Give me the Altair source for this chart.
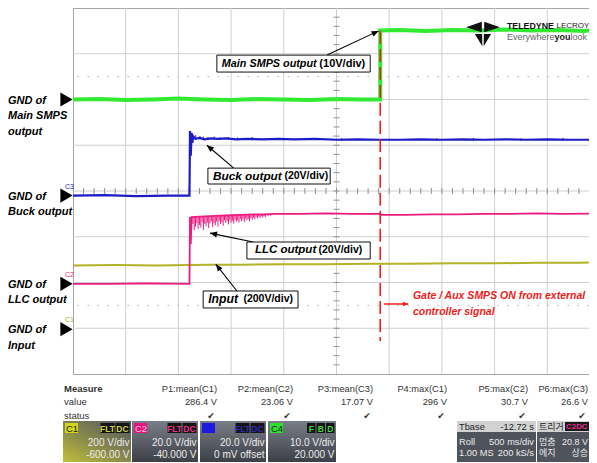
import math
import altair as alt
import pandas as pd

# ============================ DATA ============================
# Scope screen coordinates: time in divisions (500 ms/div), level in divisions (-4..+4).
MAIN_SMPS_OUTPUT = [(0, 2.00), (0.5, 2.01), (1.0, 1.99), (1.5, 2.00), (2.0, 2.02), (2.5, 2.00),
                    (3.0, 1.99), (3.5, 2.01), (4.0, 2.00), (4.5, 1.99), (5.0, 2.01), (5.5, 2.00),
                    (5.83, 2.00), (5.83, 3.51), (6.2, 3.52), (6.7, 3.50), (7.2, 3.52), (7.7, 3.51),
                    (8.2, 3.53), (8.7, 3.51), (9.2, 3.52), (9.7, 3.50), (10, 3.52)]

BUCK_OUTPUT = [(0, -0.10), (0.6, -0.09), (1.2, -0.11), (1.8, -0.10), (2.21, -0.10), (2.22, 1.31),
               (2.235, 0.77), (2.25, 1.27), (2.265, 1.05), (2.28, 1.20), (2.32, 1.14), (2.40, 1.16),
               (2.50, 1.13), (2.62, 1.15), (2.75, 1.14), (2.9, 1.15), (3.1, 1.13), (3.3, 1.14),
               (3.6, 1.13), (3.9, 1.14), (4.2, 1.13), (4.6, 1.14), (5.0, 1.12), (5.4, 1.13),
               (5.8, 1.12), (6.2, 1.12), (6.6, 1.13), (7.0, 1.12), (7.4, 1.13), (7.8, 1.12),
               (8.2, 1.13), (8.6, 1.12), (9.0, 1.13), (9.4, 1.12), (10, 1.12)]
# (time, low, high) short noise bursts on the buck output
BUCK_NOISE = [(2.33, 1.12, 1.22), (2.41, 1.12, 1.20), (2.47, 1.11, 1.19), (2.56, 1.12, 1.18),
              (2.68, 1.12, 1.19), (2.79, 1.12, 1.17), (2.95, 1.12, 1.18), (3.12, 1.11, 1.17),
              (3.40, 1.11, 1.18), (3.75, 1.12, 1.16), (4.40, 1.11, 1.16), (5.10, 1.10, 1.15),
              (6.90, 1.10, 1.15), (7.60, 1.10, 1.16), (8.50, 1.10, 1.15), (9.30, 1.10, 1.16)]

LLC_OUTPUT = [(0, -2.03), (0.7, -2.03), (1.4, -2.02), (2.21, -2.03), (2.22, -0.57), (2.235, -1.16),
              (2.25, -0.57), (2.4, -0.56), (2.6, -0.55), (2.8, -0.54), (3.0, -0.53), (3.2, -0.52),
              (3.4, -0.51), (3.6, -0.51), (3.85, -0.50), (4.3, -0.50), (4.8, -0.49), (5.3, -0.50),
              (5.82, -0.50), (5.86, -0.52), (6.3, -0.52), (6.8, -0.51), (7.3, -0.51), (7.8, -0.50),
              (8.3, -0.50), (8.8, -0.49), (9.3, -0.50), (10, -0.49)]
# (time, top, bottom) of the ringing spikes on the LLC output after start-up
LLC_SPIKES = [(2.25, -0.57, -0.84), (2.275, -0.57, -0.72), (2.30, -0.57, -0.86), (2.325, -0.57, -0.78),
              (2.35, -0.57, -0.70), (2.375, -0.56, -0.83), (2.40, -0.56, -0.74), (2.425, -0.56, -0.80),
              (2.45, -0.56, -0.68), (2.475, -0.56, -0.85), (2.50, -0.56, -0.72), (2.525, -0.56, -0.77),
              (2.55, -0.56, -0.69), (2.575, -0.55, -0.81), (2.60, -0.55, -0.71), (2.625, -0.55, -0.66),
              (2.65, -0.55, -0.79), (2.675, -0.55, -0.70), (2.70, -0.55, -0.75), (2.725, -0.55, -0.67),
              (2.75, -0.54, -0.78), (2.775, -0.54, -0.65), (2.80, -0.54, -0.72), (2.825, -0.54, -0.68),
              (2.85, -0.54, -0.76), (2.875, -0.54, -0.64), (2.90, -0.54, -0.70), (2.925, -0.54, -0.66),
              (2.95, -0.53, -0.73), (2.975, -0.53, -0.63), (3.00, -0.53, -0.69), (3.025, -0.53, -0.65),
              (3.05, -0.53, -0.71), (3.075, -0.53, -0.62), (3.10, -0.53, -0.67), (3.125, -0.52, -0.64),
              (3.15, -0.52, -0.69), (3.175, -0.52, -0.61), (3.20, -0.52, -0.66), (3.225, -0.52, -0.62),
              (3.25, -0.52, -0.68), (3.275, -0.52, -0.60), (3.30, -0.52, -0.64), (3.325, -0.51, -0.61),
              (3.35, -0.51, -0.66), (3.375, -0.51, -0.59), (3.40, -0.51, -0.63), (3.425, -0.51, -0.58),
              (3.45, -0.51, -0.62), (3.475, -0.51, -0.57), (3.50, -0.51, -0.60), (3.525, -0.51, -0.56),
              (3.55, -0.51, -0.59), (3.575, -0.51, -0.55), (3.60, -0.51, -0.58), (3.625, -0.51, -0.55),
              (3.65, -0.51, -0.57), (3.70, -0.50, -0.55), (3.75, -0.50, -0.54)]

INPUT = [(0, -1.63), (0.8, -1.62), (1.6, -1.63), (2.2, -1.62), (2.6, -1.61), (3.2, -1.61),
         (4.0, -1.60), (4.8, -1.60), (5.6, -1.59), (6.4, -1.59), (7.2, -1.58), (8.0, -1.58),
         (8.8, -1.57), (9.6, -1.57), (10, -1.56)]

GND_LABELS = ["GND of\nMain SMPS\noutput", "GND of\nBuck output", "GND of\nLLC output", "GND of\nInput"]
GND_LEVELS = [2.00, -0.10, -2.03, -3.02]
GND_TAGS = ["", "C3", "C2", "C1"]

ANN_LABEL = ["Main SMPS output", "Buck output", "LLC output", "Input"]
ANN_SCALE = ["(10V/div)", "(20V/div)", "(20V/div)", "(200V/div)"]
ANN_BOX = [(2.73, 5.64, 2.97, 2.60), (2.56, 4.88, 0.50, 0.153),
           (3.30, 5.64, -1.115, -1.486), (2.47, 4.27, -2.186, -2.557)]
ANN_ARROW = [(4.82, 2.97, 5.80, 3.50), (3.05, 0.50, 2.54, 1.00),
             (3.42, -1.115, 2.60, -0.92), (3.11, -2.186, 2.71, -1.60)]

TRIGGER_T = 5.83
TRIGGER_SPAN = (3.50, -3.28)
TRIGGER_ARROW = (5.90, 6.36, -2.47)
TRIGGER_NOTE = ["Gate / Aux SMPS ON from external", "controller signal"]
TRIGGER_NOTE_POS = (6.45, [-2.30, -2.65])

MEAS_NAMES = ["P1:mean(C1)", "P2:mean(C2)", "P3:mean(C3)", "P4:max(C1)", "P5:max(C2)", "P6:max(C3)"]
MEAS_VALUES = ["286.4 V", "23.06 V", "17.07 V", "296 V", "30.7 V", "26.6 V"]

CH_NAMES = ["C1", "C2", "", "C4"]
CH_VDIV = ["200 V/div", "20.0 V/div", "20.0 V/div", "10.0 V/div"]
CH_OFFSET = ["-600.00 V", "-40.000 V", "0 mV offset", "20.000 V"]
CH_BADGES = [["FLT", "DC"], ["FLT", "DC"], ["FLT", "DC"], ["F", "B", "D"]]

TBASE_ROWS = [("Tbase", "-12.72 s"), ("Roll", "500 ms/div"), ("1.00 MS", "200 kS/s")]
TRIG_ROWS = [("트리거", ""), ("멈춤", "20.8 V"), ("에지", "상승")]

# ============================ STYLE / LAYOUT ============================
PX_DIV_X, PX_DIV_Y = 52.7, 45.75
W, H = 516, 366                     # canvas = 65 + 516 = 581 wide (fits the page without shrinking)
XMAX = W / PX_DIV_X
PAD_L, PAD_B = 65, 89
X0, Y0 = 8 + PAD_L, 8               # page position of plot origin
ARIAL = "Liberation Sans, Arial, sans-serif"
UI = "Liberation Sans Narrow, Liberation Sans, Arial, sans-serif"
KR = "Noto Sans CJK KR, sans-serif"

GREEN, BLUE, PINK, OLIVE, RED = "#33ea33", "#1c1cc8", "#ef1a80", "#b3b228", "#f01c1c"
CH_COLORS = ["#d4d41c", "#e8157c", "#1c1ce0", "#30e030"]
CH_BADGE_TXT = ["#cfcf50", "#e8308a", "#2a2ab0", "#38d838"]
GRID = "#cfcfcf"

XS = alt.Scale(domain=[0, XMAX], nice=False, zero=False)
YS = alt.Scale(domain=[-4, 4], nice=False, zero=False)
ARROW_PATH = "M0,0 L-0.42,1 L0.42,1 Z"
LOGO_PATH = ("M-1,-0.40 L-0.07,-0.72 L-0.07,-0.10 Z M1,-0.40 L0.07,-0.72 L0.07,-0.10 Z "
             "M-0.48,0.0 L-0.05,0.0 L-0.04,0.72 Z M0.48,0.0 L0.05,0.0 L0.04,0.72 Z")

ONE = pd.DataFrame({"k": [0]})


def X(f):
    return alt.X(f"{f}:Q", scale=XS, axis=None)


def Y(f):
    return alt.Y(f"{f}:Q", scale=YS, axis=None)


def X2(f):
    return alt.X2(f"{f}:Q")


def Y2(f):
    return alt.Y2(f"{f}:Q")


def frame(points):
    return pd.DataFrame({"i": range(len(points)), "t": [p[0] for p in points], "v": [p[1] for p in points]})


def ctext(xp, yp, s, size=9.5, color="#222222", align="left", weight="normal", style="normal",
          font=UI, baseline="middle"):
    return alt.Chart(ONE).mark_text(text=s, fontSize=size, color=color, align=align, fontWeight=weight,
                                    fontStyle=style, font=font, baseline=baseline).encode(
        x=alt.value(xp - X0), y=alt.value(yp - Y0))


def crect(x1, y1, x2, y2, fill, **kw):
    return alt.Chart(ONE).mark_rect(fill=fill, **kw).encode(
        x=alt.value(x1 - X0), x2=alt.value(x2 - X0), y=alt.value(y1 - Y0), y2=alt.value(y2 - Y0))


def head_angle(t1, v1, t2, v2):
    dx = (t2 - t1) * PX_DIV_X
    dy = -(v2 - v1) * PX_DIV_Y
    return math.degrees(math.atan2(dx, -dy)) % 360


layers = []

# ---- graticule
layers.append(alt.Chart(pd.DataFrame({"t": list(range(1, 10))})).mark_rule(color=GRID, strokeWidth=1).encode(x=X("t")))
layers.append(alt.Chart(pd.DataFrame({"v": list(range(-3, 4))})).mark_rule(color=GRID, strokeWidth=1).encode(y=Y("v")))
layers.append(alt.Chart(pd.DataFrame({"v": [2.5, -2.5]})).mark_rule(color="#b5b5b5", strokeDash=[1.5, 8.5]).encode(y=Y("v")))
layers.append(alt.Chart(pd.DataFrame({"t": [round(0.2 * k, 1) for k in range(1, 49)]})).mark_rule(
    color="#909090").encode(x=X("t"), y=alt.value(H / 2 - 3), y2=alt.value(H / 2 + 3)))
layers.append(alt.Chart(pd.DataFrame({"v": [round(-4 + 0.2 * k, 1) for k in range(1, 40)]})).mark_rule(
    color="#909090").encode(y=Y("v"), x=alt.value(5 * PX_DIV_X - 3), x2=alt.value(5 * PX_DIV_X + 3)))

# ---- traces
layers.append(alt.Chart(frame(INPUT)).mark_line(color=OLIVE, strokeWidth=2).encode(
    x=X("t"), y=Y("v"), order=alt.Order("i:Q")))
spk = pd.DataFrame(LLC_SPIKES, columns=["t", "top", "bot"])
layers.append(alt.Chart(spk).mark_rule(color=PINK, strokeWidth=1).encode(x=X("t"), y=Y("top"), y2=Y2("bot")))
layers.append(alt.Chart(frame(LLC_OUTPUT)).mark_line(color=PINK, strokeWidth=1.8).encode(
    x=X("t"), y=Y("v"), order=alt.Order("i:Q")))
bn = pd.DataFrame(BUCK_NOISE, columns=["t", "lo", "hi"])
layers.append(alt.Chart(bn).mark_rule(color=BLUE, strokeWidth=1).encode(x=X("t"), y=Y("lo"), y2=Y2("hi")))
layers.append(alt.Chart(frame(BUCK_OUTPUT)).mark_line(color=BLUE, strokeWidth=2.2).encode(
    x=X("t"), y=Y("v"), order=alt.Order("i:Q")))
layers.append(alt.Chart(frame(MAIN_SMPS_OUTPUT)).mark_line(color=GREEN, strokeWidth=4).encode(
    x=X("t"), y=Y("v"), order=alt.Order("i:Q")))

# ---- trigger marker (red dashed) and note
layers.append(alt.Chart(pd.DataFrame({"t": [TRIGGER_T], "v1": [TRIGGER_SPAN[0]], "v2": [TRIGGER_SPAN[1]]})).mark_rule(
    color=RED, strokeWidth=1.6, strokeDash=[13, 5]).encode(x=X("t"), y=Y("v1"), y2=Y2("v2")))
ta = pd.DataFrame({"t1": [TRIGGER_ARROW[0]], "t2": [TRIGGER_ARROW[1]], "v": [TRIGGER_ARROW[2]]})
layers.append(alt.Chart(ta).mark_rule(color=RED, strokeWidth=1.5).encode(x=X("t1"), x2=X2("t2"), y=Y("v")))
layers.append(alt.Chart(ta).mark_point(shape=ARROW_PATH, filled=True, size=110, angle=90, color=RED, opacity=1,
                                       strokeWidth=0).encode(x=X("t2"), y=Y("v")))
layers.append(alt.Chart(pd.DataFrame({"t": [TRIGGER_NOTE_POS[0]] * 2, "v": TRIGGER_NOTE_POS[1], "s": TRIGGER_NOTE})).mark_text(
    align="left", baseline="middle", font=ARIAL, fontSize=10.5, fontWeight="bold", fontStyle="italic", color=RED).encode(
    x=X("t"), y=Y("v"), text="s:N"))

# ---- annotation boxes + arrows
ITALIC_SIZE = [10.8, 11.8, 11.5, 12.2]
UPRIGHT_SIZE = [11, 10.5, 10.5, 10.5]
PADS = [(5, 5), (5, 2), (8, 8), (5, 5)]
for k in range(4):
    t1, t2, v1, v2 = ANN_BOX[k]
    a1, b1, a2, b2 = ANN_ARROW[k]
    row = pd.DataFrame({"t1": [t1], "t2": [t2], "v1": [v1], "v2": [v2], "vc": [(v1 + v2) / 2],
                        "a1": [a1], "b1": [b1], "a2": [a2], "b2": [b2],
                        "lab": [ANN_LABEL[k]], "sc": [ANN_SCALE[k]]})
    layers.append(alt.Chart(row).mark_rule(color="black", strokeWidth=1.1).encode(
        x=X("a1"), y=Y("b1"), x2=X2("a2"), y2=Y2("b2")))
    layers.append(alt.Chart(row).mark_point(shape=ARROW_PATH, filled=True, size=200, angle=head_angle(a1, b1, a2, b2),
                                            color="black", opacity=1, strokeWidth=0).encode(x=X("a2"), y=Y("b2")))
    layers.append(alt.Chart(row).mark_rect(fill="white", stroke="#111111", strokeWidth=1).encode(
        x=X("t1"), x2=X2("t2"), y=Y("v1"), y2=Y2("v2")))
    layers.append(alt.Chart(row).mark_text(align="left", baseline="middle", dx=PADS[k][0], font=ARIAL,
                                           fontSize=ITALIC_SIZE[k], fontWeight="bold", fontStyle="italic",
                                           color="black").encode(x=X("t1"), y=Y("vc"), text="lab:N"))
    layers.append(alt.Chart(row).mark_text(align="right", baseline="middle", dx=-PADS[k][1], font=ARIAL,
                                           fontSize=UPRIGHT_SIZE[k], fontWeight="bold",
                                           color="black").encode(x=X("t2"), y=Y("vc"), text="sc:N"))

# ---- ground markers and labels
gnd = pd.DataFrame({"v": GND_LEVELS, "lab": GND_LABELS, "tag": GND_TAGS})
layers.append(alt.Chart(gnd).mark_point(shape="triangle-right", filled=True, size=200, color="black", opacity=1,
                                        strokeWidth=0).encode(x=alt.value(-6.5), y=Y("v")))
layers.append(alt.Chart(gnd).mark_text(align="left", baseline="alphabetic", dy=4, lineBreak="\n", lineHeight=15.5,
                                       font=ARIAL, fontSize=11, fontWeight="bold", fontStyle="italic",
                                       color="black").encode(x=alt.value(8 - X0), y=Y("v"), text="lab:N"))
for tag, col in [("C3", BLUE), ("C2", PINK), ("C1", OLIVE)]:
    layers.append(alt.Chart(gnd[gnd.tag == tag]).mark_text(align="left", baseline="middle", dy=-9, fontSize=7,
                                                            font=ARIAL, color=col).encode(
        x=alt.value(-8), y=Y("v"), text="tag:N"))

# ---- logo
layers.append(alt.Chart(ONE).mark_point(shape=LOGO_PATH, filled=True, size=1150, color="#111111", opacity=1,
                                        strokeWidth=0).encode(x=alt.value(483 - X0), y=alt.value(34 - Y0)))
layers.append(ctext(507, 26, "TELEDYNE", size=8.8, weight="bold", color="#111111", font=ARIAL))
layers.append(ctext(556.5, 26, "LECROY", size=8, color="#222222", font=ARIAL))
layers.append(ctext(507, 36.5, "Everywhere", size=9, color="#666666", font=ARIAL))
layers.append(ctext(554.5, 36.5, "you", size=9, color="#222222", weight="bold", font=ARIAL))
layers.append(ctext(570.5, 36.5, "look", size=9, color="#666666", font=ARIAL))

# ---- measurement panel
for lab, yy, wt in [("Measure", 389, "bold"), ("value", 402, "normal"), ("status", 416, "normal")]:
    layers.append(ctext(64, yy, lab, size=9.5, weight=wt, color="#333333"))
MEAS_RIGHT = [217, 293, 373, 447, 528, 588]
for k in range(6):
    xr = MEAS_RIGHT[k]
    layers.append(ctext(xr, 389, MEAS_NAMES[k], size=9.3, align="right", color="#333333"))
    layers.append(ctext(xr, 402, MEAS_VALUES[k], size=9.3, align="right", color="#333333"))
    layers.append(ctext(xr - 6, 416, "✔", size=9, align="center", color="#333333", font="DejaVu Sans"))

# ---- channel boxes
CH_BOX = [(63, 131), (132, 198), (200, 266), (268, 336)]
C1_FILL = {"gradient": "linear", "x1": 0, "y1": 1, "x2": 0.9, "y2": 0,
           "stops": [{"offset": 0, "color": "#c2c03a"}, {"offset": 0.45, "color": "#8c8c4a"},
                     {"offset": 1, "color": "#565a62"}]}
DARK_FILL = {"gradient": "linear", "x1": 0, "y1": 0, "x2": 0, "y2": 1,
             "stops": [{"offset": 0, "color": "#7a7e88"}, {"offset": 1, "color": "#3c3f46"}]}
for k in range(4):
    x1, x2 = CH_BOX[k]
    layers.append(crect(x1, 421, x2, 462, C1_FILL if k == 0 else DARK_FILL))
    layers.append(crect(x1 + 2, 423, x1 + 15, 433, CH_COLORS[k]))
    if CH_NAMES[k]:
        layers.append(ctext(x1 + 3, 428.5, CH_NAMES[k], size=9.5, color="#f8c0dc" if k == 1 else "#222222"))
    bw = 14 if len(CH_BADGES[k]) == 2 else 8.5
    for j, b in enumerate(reversed(CH_BADGES[k])):
        bx2 = x2 - 1.5 - j * (bw + 1)
        layers.append(crect(bx2 - bw, 423, bx2, 433, "#141414"))
        layers.append(ctext(bx2 - bw / 2, 428.5, b, size=8.5, align="center", color=CH_BADGE_TXT[k], weight="bold"))
    layers.append(ctext(x2 - 1.5, 442.5, CH_VDIV[k], size=10, align="right", color="#ececec"))
    layers.append(ctext(x2 - 1.5, 454.5, CH_OFFSET[k], size=10, align="right", color="#ececec"))

# ---- timebase and trigger boxes
for (bx1, bx2, rows, font) in [(457, 536, TBASE_ROWS, UI), (537, 590, TRIG_ROWS, KR)]:
    layers.append(crect(bx1, 421, bx2, 462, "#4f535b"))
    layers.append(crect(bx1, 421, bx2, 432, "#d2d2d2"))
    for j, (l, r) in enumerate(rows):
        yy = [426.5, 441.5, 453][j]
        col = "#222222" if j == 0 else "#ececec"
        sz = 9.3 if font == UI else 9
        layers.append(ctext(bx1 + 2, yy, l, size=sz, color=col, font=font))
        if r:
            layers.append(ctext(bx2 - 2, yy, r, size=sz, color=col, align="right", font=font if j == 2 else UI))
layers.append(crect(565, 422, 590, 431, "#1a1a1a"))
layers.append(ctext(566, 426.5, "C2", size=7.8, color="#e8308a", weight="bold"))
layers.append(ctext(587.5, 426.5, "DC", size=7.8, color="#e8308a", weight="bold", align="right"))

chart = alt.layer(*layers).properties(
    width=W, height=H,
    padding={"left": PAD_L, "top": 0, "right": 0, "bottom": PAD_B},
    autosize=alt.AutoSizeParams(type="none"),
    background="white",
).configure_view(stroke="#a5a5a5", strokeWidth=1)

chart.save("out.html", embed_options={"renderer": "svg", "actions": False})
